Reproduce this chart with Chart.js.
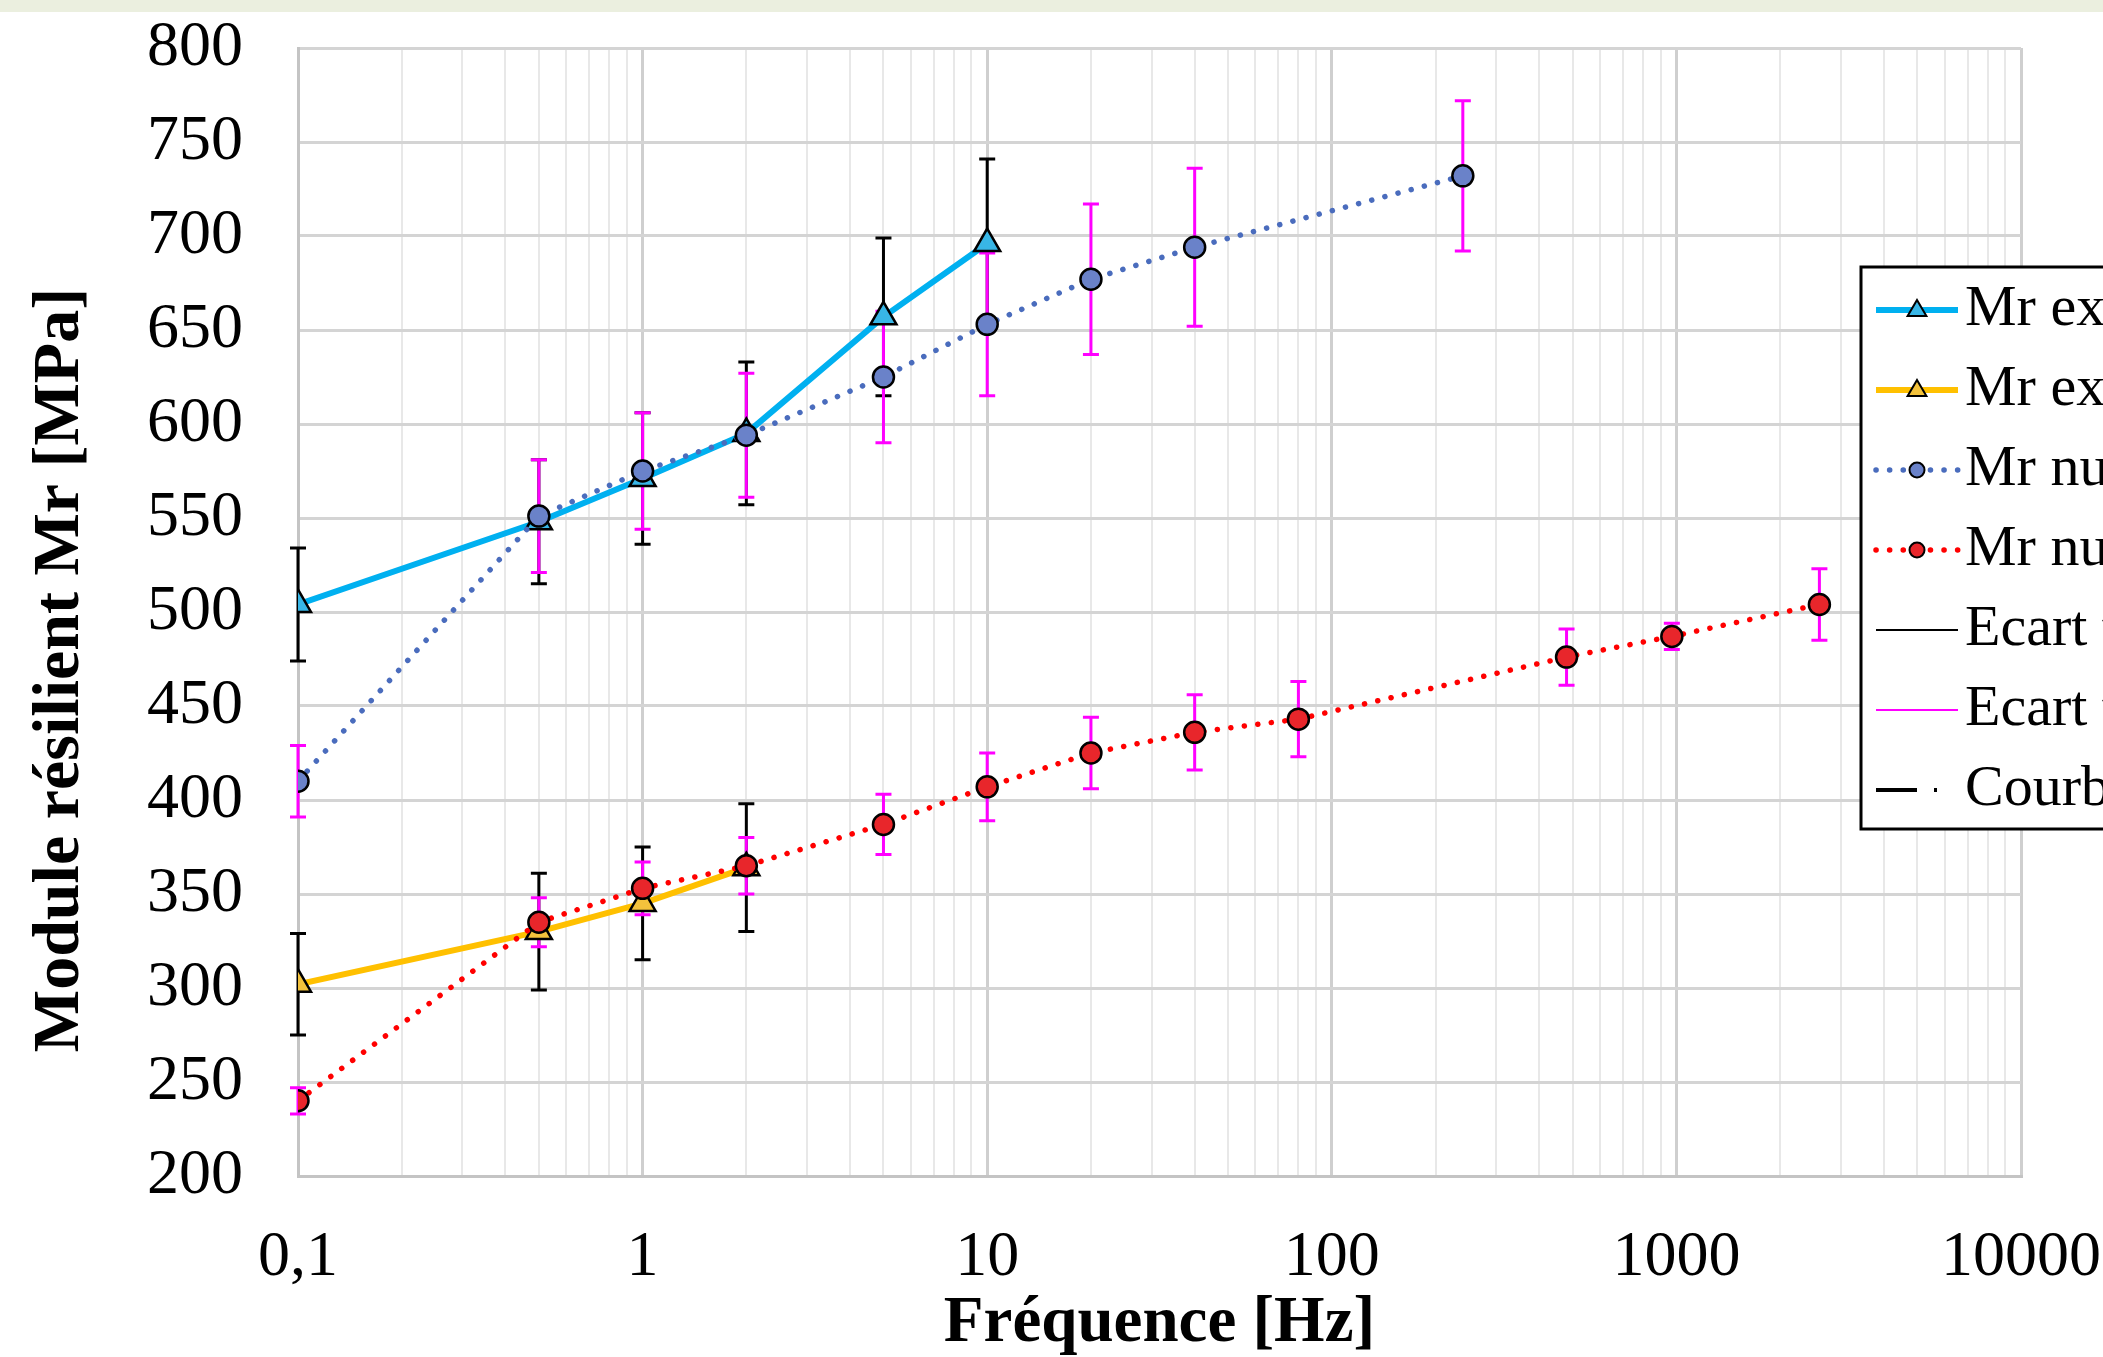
<!DOCTYPE html>
<html>
<head>
<meta charset="utf-8">
<script src="https://cdn.jsdelivr.net/npm/chart.js@4.4.1/dist/chart.umd.min.js"></script>
<style>
  html, body { margin: 0; padding: 0; background: #fff; }
  canvas { display: block; }
</style>
</head>
<body>
<canvas id="chart-mr" width="2103" height="1357"></canvas>
<script>
// valeurs
const freqExp1 = [0.1, 0.5, 1, 2, 5, 10];
const mrExp1 = [504, 548, 571, 595, 657, 696];
const errExp1 = [30, 33, 35, 38, 42, 45];

const freqExp2 = [0.1, 0.5, 1, 2];
const mrExp2 = [302, 330, 345, 364];
const errExp2 = [27, 31, 30, 34];

const freqNum1 = [0.1, 0.5, 1, 2, 5, 10, 20, 40, 240];
const mrNum1 = [410, 551, 575, 594, 625, 653, 677, 694, 732];
const errNum1 = [19, 30, 31, 33, 35, 38, 40, 42, 40];

const freqNum2 = [0.1, 0.5, 1, 2, 5, 10, 20, 40, 80, 480, 970, 2600];
const mrNum2 = [240, 335, 353, 365, 387, 407, 425, 436, 443, 476, 487, 504];
const errNum2 = [7, 13, 14, 15, 16, 18, 19, 20, 20, 15, 7, 19];

const decades = [0.1, 1, 10, 100, 1000, 10000];
const decadeLabels = ['0,1', '1', '10', '100', '1000', '10000'];

const FONT = "'Liberation Serif', 'Times New Roman', serif";

const pts = (xs, ys) => xs.map((x, i) => ({ x: x, y: ys[i] }));
const isDecade = v => v != null && decades.some(d => Math.abs(d - v) / d < 1e-9);

// lignes de grille : 1..9 par décade
const gridValues = [];
decades.forEach((d, i) => {
  if (i === decades.length - 1) { gridValues.push(d); return; }
  for (let k = 1; k <= 9; k++) gridValues.push(d * k);
});

const dotted = [0.1, 13.5];

const topBand = {
  id: 'topBand',
  beforeDraw(chart) {
    const ctx = chart.ctx;
    ctx.save();
    ctx.fillStyle = '#ebefdf';
    ctx.fillRect(0, 0, chart.width, 12);
    ctx.restore();
  }
};

const errorBars = {
  id: 'errorBars',
  beforeDatasetsDraw(chart) {
    const { ctx, scales: { x, y } } = chart;
    ctx.save();
    chart.data.datasets.forEach(ds => {
      if (!ds.errors) return;
      ctx.strokeStyle = ds.errorColor;
      ctx.lineWidth = 3;
      ds.data.forEach((p, i) => {
        const px = x.getPixelForValue(p.x);
        const top = y.getPixelForValue(p.y + ds.errors[i]);
        const bot = y.getPixelForValue(p.y - ds.errors[i]);
        ctx.beginPath();
        ctx.moveTo(px, top); ctx.lineTo(px, bot);
        ctx.moveTo(px - 8, top); ctx.lineTo(px + 8, top);
        ctx.moveTo(px - 8, bot); ctx.lineTo(px + 8, bot);
        ctx.stroke();
      });
    });
    ctx.restore();
  }
};

function marker(ctx, style, x, y, r) {
  ctx.beginPath();
  if (style === 'triangle') {
    ctx.moveTo(x, y - r);
    ctx.lineTo(x + r * 0.94, y + r * 0.6);
    ctx.lineTo(x - r * 0.94, y + r * 0.6);
    ctx.closePath();
  } else {
    ctx.arc(x, y, r, 0, Math.PI * 2);
  }
  ctx.fill();
  ctx.stroke();
}

const boxLegend = {
  id: 'boxLegend',
  afterDraw(chart) {
    const ctx = chart.ctx;
    const left = 1861, top = 267, bottom = 829;
    ctx.save();
    ctx.fillStyle = '#fff';
    ctx.fillRect(left, top, chart.width - left + 10, bottom - top);
    ctx.strokeStyle = '#000';
    ctx.lineWidth = 3;
    ctx.strokeRect(left, top, chart.width - left + 10, bottom - top);

    chart.data.datasets.forEach((ds, i) => {
      const yy = 310 + i * 80;
      ctx.strokeStyle = ds.borderColor;
      ctx.lineWidth = ds.borderWidth;
      ctx.lineCap = ds.borderCapStyle || 'butt';
      ctx.setLineDash(ds.legendDash || ds.borderDash || []);
      ctx.beginPath();
      ctx.moveTo(1876, yy);
      ctx.lineTo(1958, yy);
      ctx.stroke();
      ctx.setLineDash([]);
      ctx.lineCap = 'butt';
      if (ds.pointRadius) {
        ctx.fillStyle = ds.pointBackgroundColor;
        ctx.strokeStyle = '#000';
        ctx.lineWidth = 2;
        marker(ctx, ds.pointStyle, 1917, yy, ds.pointStyle === 'triangle' ? 10 : 7.5);
      }
      ctx.fillStyle = '#000';
      ctx.font = '58px ' + FONT;
      ctx.textBaseline = 'middle';
      ctx.textAlign = 'left';
      ctx.fillText(ds.label, 1965, yy);
    });

    // titre de l'axe vertical
    ctx.translate(78, 670);
    ctx.rotate(-Math.PI / 2);
    ctx.font = 'bold 66px ' + FONT;
    ctx.textAlign = 'center';
    ctx.textBaseline = 'alphabetic';
    ctx.fillStyle = '#000';
    ctx.fillText('Module résilient Mr [MPa]', 0, 0);
    ctx.restore();
  }
};

const ctx = document.getElementById('chart-mr');

new Chart(ctx, {
  type: 'line',
  data: {
    datasets: [
      {
        label: 'Mr expérimental 1',
        data: pts(freqExp1, mrExp1),
        errors: errExp1,
        errorColor: '#000',
        borderColor: '#00b0f0',
        borderWidth: 6,
        pointStyle: 'triangle',
        pointRadius: 15,
        pointBackgroundColor: '#38b6e6',
        pointBorderColor: '#000',
        pointBorderWidth: 2.5,
        order: 2
      },
      {
        label: 'Mr expérimental 2',
        data: pts(freqExp2, mrExp2),
        errors: errExp2,
        errorColor: '#000',
        borderColor: '#ffc000',
        borderWidth: 6,
        pointStyle: 'triangle',
        pointRadius: 15,
        pointBackgroundColor: '#f3c23c',
        pointBorderColor: '#000',
        pointBorderWidth: 2.5,
        order: 2
      },
      {
        label: 'Mr numérique 1',
        data: pts(freqNum1, mrNum1),
        errors: errNum1,
        errorColor: '#ff00ff',
        borderColor: '#4a6cbd',
        borderWidth: 5.5,
        borderDash: dotted,
        borderCapStyle: 'round',
        pointStyle: 'circle',
        pointRadius: 10.5,
        pointBackgroundColor: '#6a82c9',
        pointBorderColor: '#000',
        pointBorderWidth: 2.5,
        order: 1
      },
      {
        label: 'Mr numérique 2',
        data: pts(freqNum2, mrNum2),
        errors: errNum2,
        errorColor: '#ff00ff',
        borderColor: '#ff0000',
        borderWidth: 5.5,
        borderDash: dotted,
        borderCapStyle: 'round',
        pointStyle: 'circle',
        pointRadius: 10.5,
        pointBackgroundColor: '#e8262b',
        pointBorderColor: '#000',
        pointBorderWidth: 2.5,
        order: 1
      },
      {
        label: 'Ecart type expérimental',
        data: [],
        borderColor: '#000',
        borderWidth: 2,
        pointRadius: 0
      },
      {
        label: 'Ecart type numérique',
        data: [],
        borderColor: '#ff00ff',
        borderWidth: 2,
        pointRadius: 0
      },
      {
        label: 'Courbe maîtresse',
        data: [],
        borderColor: '#000',
        borderWidth: 4,
        borderDash: [41, 17, 3, 30],
        pointRadius: 0
      }
    ]
  },
  options: {
    responsive: false,
    animation: false,
    devicePixelRatio: 1,
    layout: { padding: { left: 147, top: 48, right: 82, bottom: 0 } },
    elements: { line: { tension: 0, fill: false } },
    scales: {
      x: {
        type: 'logarithmic',
        min: 0.1,
        max: 10000,
        afterBuildTicks(scale) {
          scale.ticks = gridValues.map(v => ({ value: v }));
        },
        afterFit(scale) { scale.height = 181; },
        ticks: {
          autoSkip: false,
          maxRotation: 0,
          padding: 0,
          color: '#000',
          font: { family: FONT, size: 64, lineHeight: 2.56 },
          callback(value) {
            const i = decades.findIndex(d => Math.abs(d - value) / d < 1e-9);
            return i >= 0 ? decadeLabels[i] : '';
          }
        },
        grid: {
          drawTicks: false,
          color: c => isDecade(c.tick && c.tick.value) ? '#cfcfcf' : '#e8e8e8',
          lineWidth: c => isDecade(c.tick && c.tick.value) ? 3 : 2
        },
        border: { color: '#c4c4c4', width: 3 },
        title: {
          display: true,
          text: 'Fréquence [Hz]',
          color: '#000',
          font: { family: FONT, size: 65, weight: 'bold', lineHeight: 1 },
          padding: { top: 0, bottom: 0 }
        }
      },
      y: {
        min: 200,
        max: 800,
        afterFit(scale) { scale.width = 151; },
        ticks: {
          stepSize: 50,
          padding: 0,
          crossAlign: 'far',
          color: '#000',
          font: { family: FONT, size: 64 }
        },
        grid: { drawTicks: false, color: '#d4d4d4', lineWidth: 3 },
        border: { color: '#c4c4c4', width: 3 }
      }
    },
    plugins: {
      legend: { display: false },
      tooltip: { enabled: false }
    }
  },
  plugins: [topBand, errorBars, boxLegend]
});
</script>
</body>
</html>
